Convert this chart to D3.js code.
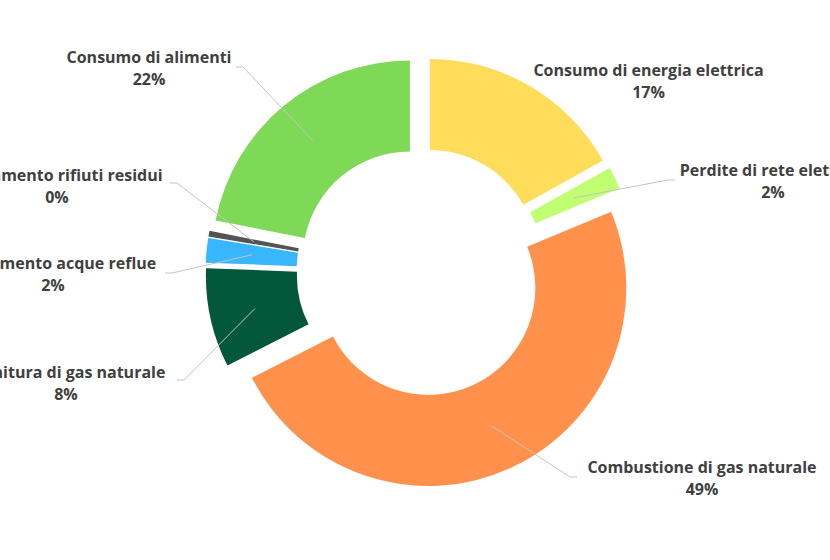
<!DOCTYPE html>
<html><head><meta charset="utf-8">
<script src="https://cdn.jsdelivr.net/npm/d3@7"></script>
<style>html,body{margin:0;padding:0;background:#fff;overflow:hidden}</style>
</head><body>
<svg id="chart" width="830" height="560"></svg>
<script>
// ---- data ----
const categories = [
  "Consumo di energia elettrica",
  "Perdite di rete elettrica",
  "Combustione di gas naturale",
  "Fornitura di gas naturale",
  "Trattamento acque reflue",
  "Trattamento rifiuti residui",
  "Consumo di alimenti"
];
const values = [16.9, 1.8, 48.75, 8.1, 2.0, 0.47, 21.9];
const colors = ["#FFDC5A", "#C1FF72", "#FF914D", "#03573A", "#38B6FF", "#545454", "#7ED957"];

// ---- layout (label placement) ----
// tx: text centre, ty: first-line baseline, ex/ey: connector end (null = no connector)
const labelLayout = [
  {tx: 648.5, ty: 76,  ex: null, ey: null},
  {tx: 773,   ty: 176, ex: 675,  ey: 180},
  {tx: 702,   ty: 473, ex: 577,  ey: 477},
  {tx: 66,    ty: 378, ex: 177,  ey: 380},
  {tx: 53,    ty: 269, ex: 165,  ey: 273},
  {tx: 57,    ty: 181, ex: 170,  ey: 183},
  {tx: 149,   ty: 63,  ex: 236,  ey: 67}
];

const cx = 421, cy = 272, R = 198, r = 107, explode = 17.5, elbow = 7;

const svg = d3.select("#chart");
const g = svg.append("g").attr("transform", `translate(${cx},${cy})`);

const total = d3.sum(values);
const pie = d3.pie().sort(null).value(d => d.v).startAngle(0).endAngle(2 * Math.PI);
const arcs = pie(categories.map((c, i) => ({c, v: values[i], i})));
const arc = d3.arc().innerRadius(r).outerRadius(R);

const off = a => {
  const m = (a.startAngle + a.endAngle) / 2;
  return [explode * Math.sin(m), -explode * Math.cos(m)];
};

g.selectAll("path.slice").data(arcs).enter().append("path")
  .attr("class", "slice")
  .attr("d", arc)
  .attr("fill", d => colors[d.data.i])
  .attr("transform", d => { const o = off(d); return `translate(${o[0]},${o[1]})`; });

// connectors
arcs.forEach(d => {
  const L = labelLayout[d.data.i];
  if (L.ex == null) return;
  const o = off(d);
  const c = arc.centroid(d);
  const sx = c[0] + o[0] + cx, sy = c[1] + o[1] + cy;
  const right = L.ex > sx;
  const bx = right ? L.ex - elbow : L.ex + elbow;
  svg.append("path")
    .attr("d", d3.line()([[sx, sy], [bx, L.ey], [L.ex, L.ey]]))
    .attr("fill", "none")
    .attr("stroke", "#c4c4c4")
    .attr("stroke-width", 1);
});

// labels
const lab = svg.append("g")
  .attr("font-family", "'Open Sans', sans-serif")
  .attr("font-weight", 700)
  .attr("font-size", "16px")
  .attr("fill", "#404040")
  .attr("text-anchor", "middle");

arcs.forEach(d => {
  const L = labelLayout[d.data.i];
  const pct = Math.round(d.data.v / total * 100) + "%";
  lab.append("text").attr("x", L.tx).attr("y", L.ty).text(d.data.c);
  lab.append("text").attr("x", L.tx).attr("y", L.ty + 21.5).text(pct);
});
</script>
</body></html>
